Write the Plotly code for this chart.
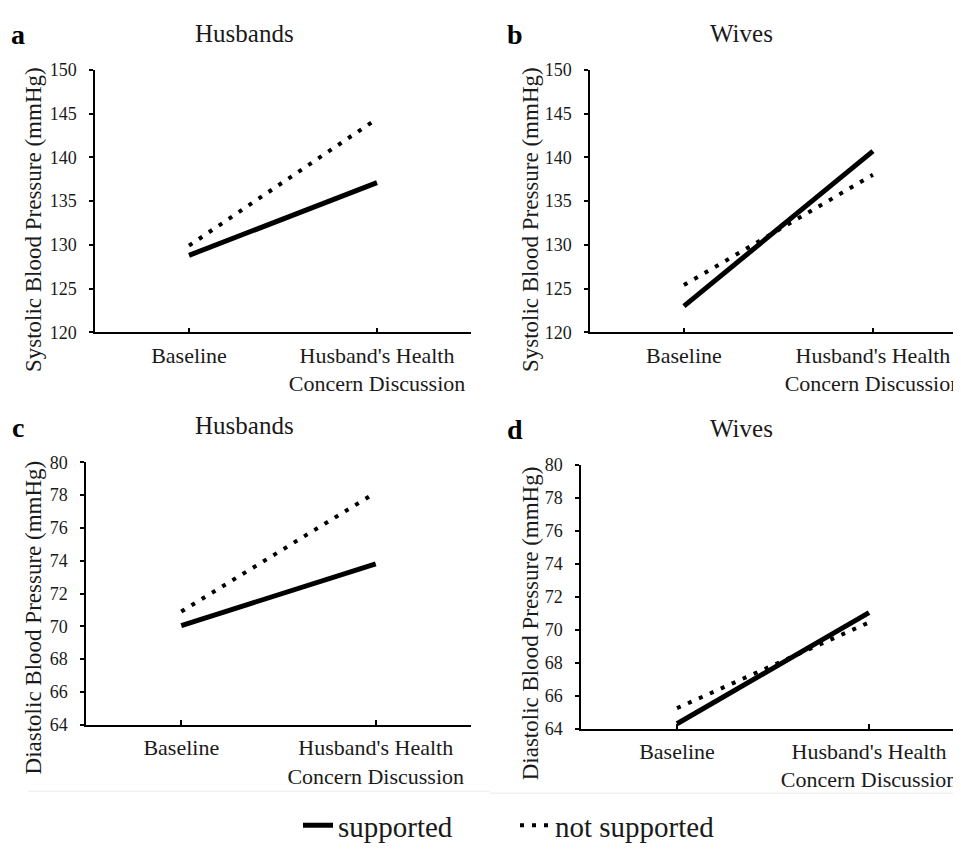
import plotly.graph_objects as go

# ---- data ----
categories = ["Baseline", "Husband's Health<br>Concern Discussion"]
sbp_husbands_supported = [128.8, 137.1]
sbp_husbands_not_supported = [129.9, 144.4]
sbp_wives_supported = [123.0, 140.7]
sbp_wives_not_supported = [125.4, 138.0]
dbp_husbands_supported = [70.05, 73.8]
dbp_husbands_not_supported = [70.9, 78.15]
dbp_wives_supported = [64.3, 71.05]
dbp_wives_not_supported = [65.25, 70.45]

sbp_ticks = [120, 125, 130, 135, 140, 145, 150]
dbp_ticks = [64, 66, 68, 70, 72, 74, 76, 78, 80]

panel_letters = ["a", "b", "c", "d"]
panel_titles = ["Husbands", "Wives", "Husbands", "Wives"]
y_titles = ["Systolic Blood Pressure (mmHg)", "Systolic Blood Pressure (mmHg)",
            "Diastolic Blood Pressure (mmHg)", "Diastolic Blood Pressure (mmHg)"]
series_names = ["supported", "not supported"]

# page is 961x851; the page body has an 8px margin, so the figure is
# sized to fill the rest and page pixel positions are shifted by 8px.
PAGE_W, PAGE_H = 961, 851
OFF = 8
W, H = PAGE_W - OFF, PAGE_H - OFF
FONT = "Liberation Serif"
INK = "#1a1a1a"


def px(x):
    return (x - OFF) / W


def py(y):
    return 1 - (y - OFF) / H


xpos = list(range(len(categories)))

panels = [
    (sbp_husbands_supported, sbp_husbands_not_supported),
    (sbp_wives_supported, sbp_wives_not_supported),
    (dbp_husbands_supported, dbp_husbands_not_supported),
    (dbp_wives_supported, dbp_wives_not_supported),
]

# layout geometry in page pixels: (x_left, x_right, y_top, y_bottom, xrange)
geom = [
    (95, 471, 61, 330, [-0.5, 1.5]),
    (590, 961, 61, 330, [-0.497, 1.466]),
    (86, 471, 463, 732, [-0.49, 1.49]),
    (581, 961, 466, 736, [-0.5, 1.479]),
]

fig = go.Figure()

for i, (sup, nsup) in enumerate(panels):
    ax = "" if i == 0 else str(i + 1)
    fig.add_trace(go.Scatter(
        x=xpos, y=sup, mode="lines", name=series_names[0],
        line=dict(color="black", width=5),
        xaxis="x" + ax, yaxis="y" + ax, showlegend=(i == 0), legendgroup="s"))
    fig.add_trace(go.Scatter(
        x=xpos, y=nsup, mode="lines", name=series_names[1],
        line=dict(color="black", width=4, dash="4px,8px"),
        xaxis="x" + ax, yaxis="y" + ax, showlegend=(i == 0), legendgroup="n"))

layout = {}
annotations = []
for i, (xl, xr, yt, yb, xr_range) in enumerate(geom):
    ax = "" if i == 0 else str(i + 1)
    yticks = sbp_ticks if i < 2 else dbp_ticks
    xdom = [px(xl), min(px(xr), 1.0)]
    ydom = [py(yb), py(yt)]
    xa = dict(domain=xdom, range=xr_range, anchor="y" + ax,
              tickvals=xpos, ticktext=categories,
              ticks="inside", ticklen=5, tickwidth=1.5, tickcolor="black",
              showline=True, linecolor="black", linewidth=1.5,
              showgrid=False, zeroline=False, fixedrange=True,
              tickfont=dict(family=FONT, size=22, color=INK),
              ticklabelstandoff=2, ticklabeloverflow="allow")
    if xr_range[1] >= 1.49:
        xa["minor"] = dict(tickvals=[1.5], ticks="inside", ticklen=5,
                           tickwidth=1.5, tickcolor="black")
    ya = dict(domain=ydom, range=[yticks[0], yticks[-1]], anchor="x" + ax,
              tickvals=yticks, ticks="outside", ticklen=4, tickwidth=1.5,
              tickcolor="black", showline=True, linecolor="black",
              linewidth=1.5, showgrid=False, zeroline=False, fixedrange=True,
              tickfont=dict(family=FONT, size=18, color=INK),
              ticklabelstandoff=9)
    layout["xaxis" + ax] = xa
    layout["yaxis" + ax] = ya

# panel letters, titles, y-axis titles (page pixel positions)
letter_pos = [(18, 25), (515, 25), (18, 427), (515, 429)]
title_pos = [(244, 24), (741, 24), (244, 425), (741, 428)]
ytitle_pos = [(33, 215), (530, 215), (33, 622), (530, 628)]
for i in range(4):
    lx, ly = letter_pos[i]
    annotations.append(dict(text="<b>%s</b>" % panel_letters[i], x=px(lx), y=py(ly),
                            xref="paper", yref="paper", showarrow=False,
                            xanchor="center", yanchor="middle",
                            font=dict(family=FONT, size=28, color="black")))
    tx, ty = title_pos[i]
    annotations.append(dict(text=panel_titles[i], x=px(tx), y=py(ty),
                            xref="paper", yref="paper", showarrow=False,
                            xanchor="center", yanchor="middle",
                            font=dict(family=FONT, size=25, color=INK)))
    yx, yy = ytitle_pos[i]
    annotations.append(dict(text=y_titles[i], x=px(yx), y=py(yy),
                            xref="paper", yref="paper", showarrow=False,
                            textangle=-90, xanchor="center", yanchor="middle",
                            font=dict(family=FONT, size=23, color=INK)))

shapes = [
    dict(type="line", xref="paper", yref="paper", x0=px(28), x1=px(490),
         y0=py(800), y1=py(800), line=dict(color="#ebebeb", width=1)),
    dict(type="line", xref="paper", yref="paper", x0=px(490), x1=1,
         y0=py(802), y1=py(802), line=dict(color="#ebebeb", width=1)),
]

fig.update_layout(
    width=W, height=H,
    margin=dict(l=0, r=0, t=0, b=0),
    paper_bgcolor="white", plot_bgcolor="white",
    font=dict(family=FONT, color=INK),
    showlegend=True,
    legend=dict(orientation="h", x=px(298), xanchor="left", y=py(835),
                yanchor="middle", font=dict(family=FONT, size=29, color=INK),
                bgcolor="rgba(0,0,0,0)", traceorder="normal",
                entrywidth=172, entrywidthmode="pixels"),
    annotations=annotations, shapes=shapes,
    **layout,
)

fig.write_html("out.html")
